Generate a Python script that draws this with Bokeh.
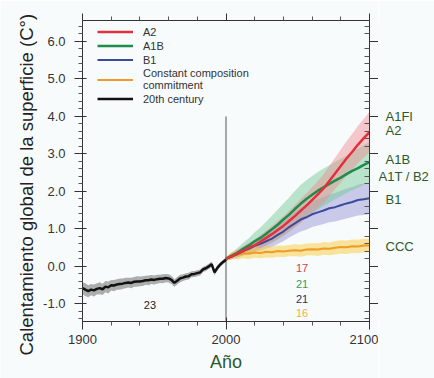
from bokeh.plotting import figure
from bokeh.models import (LinearAxis, Legend, LegendItem, Label, FixedTicker,
                          Range1d, Title, CustomJSTickFormatter, CustomLabelingPolicy)
from bokeh.layouts import row
from bokeh.core.properties import value
from bokeh.embed import file_html
from bokeh.resources import INLINE

# ---------------- data ----------------
years_hist = list(range(1900, 2001, 2))
hist = [-0.58, -0.62, -0.66, -0.62, -0.64, -0.60, -0.58, -0.61, -0.54, -0.56,
        -0.50, -0.51, -0.48, -0.47, -0.46, -0.44, -0.43, -0.44, -0.41, -0.40,
        -0.40, -0.39, -0.37, -0.37, -0.35, -0.36, -0.34, -0.33, -0.33, -0.31,
        -0.32, -0.36, -0.44, -0.38, -0.32, -0.30, -0.27, -0.26, -0.21, -0.20,
        -0.18, -0.16, -0.08, -0.05, 0.00, 0.06, -0.16, -0.04, 0.05, 0.12, 0.18]
hist_spread = [0.16, 0.17, 0.16, 0.15, 0.16, 0.15, 0.16, 0.15, 0.15, 0.16,
               0.14, 0.15, 0.14, 0.15, 0.14, 0.14, 0.13, 0.14, 0.13, 0.14,
               0.13, 0.13, 0.12, 0.13, 0.12, 0.12, 0.12, 0.11, 0.12, 0.11,
               0.11, 0.11, 0.10, 0.10, 0.10, 0.09, 0.09, 0.09, 0.08, 0.08,
               0.08, 0.08, 0.07, 0.07, 0.07, 0.07, 0.08, 0.07, 0.06, 0.06, 0.06]

years_fut = list(range(2000, 2101, 4))
a2 = [0.20, 0.27, 0.35, 0.41, 0.50, 0.56, 0.66, 0.76, 0.86, 0.97,
      1.08, 1.21, 1.34, 1.48, 1.62, 1.77, 1.92, 2.08, 2.28, 2.48,
      2.68, 2.88, 3.06, 3.25, 3.42, 3.58]
a2_spread = [0.05, 0.08, 0.10, 0.12, 0.14, 0.16, 0.18, 0.20, 0.22, 0.24,
             0.26, 0.28, 0.30, 0.32, 0.33, 0.34, 0.36, 0.38, 0.40, 0.42,
             0.44, 0.46, 0.48, 0.50, 0.52, 0.54]
a1b = [0.20, 0.29, 0.37, 0.47, 0.56, 0.67, 0.76, 0.87, 0.99, 1.11,
       1.25, 1.38, 1.53, 1.67, 1.80, 1.91, 2.02, 2.11, 2.20, 2.29,
       2.37, 2.46, 2.55, 2.62, 2.71, 2.78]
a1b_spread = [0.05, 0.08, 0.12, 0.16, 0.20, 0.24, 0.28, 0.32, 0.36, 0.40,
              0.43, 0.46, 0.48, 0.50, 0.50, 0.50, 0.50, 0.50, 0.50, 0.50,
              0.50, 0.50, 0.52, 0.52, 0.53, 0.54]
b1 = [0.20, 0.26, 0.33, 0.41, 0.47, 0.55, 0.60, 0.67, 0.74, 0.84,
      0.93, 1.05, 1.15, 1.25, 1.31, 1.39, 1.44, 1.49, 1.55, 1.58,
      1.63, 1.68, 1.72, 1.77, 1.79, 1.82]
b1_spread = [0.05, 0.07, 0.10, 0.12, 0.14, 0.16, 0.18, 0.20, 0.22, 0.24,
             0.26, 0.28, 0.30, 0.32, 0.33, 0.34, 0.35, 0.36, 0.37, 0.38,
             0.39, 0.40, 0.40, 0.41, 0.42, 0.42]
ccc = [0.20, 0.29, 0.31, 0.35, 0.34, 0.37, 0.36, 0.39, 0.38, 0.41,
       0.40, 0.42, 0.43, 0.42, 0.45, 0.46, 0.45, 0.48, 0.47, 0.50,
       0.52, 0.51, 0.54, 0.53, 0.56, 0.56]
ccc_spread = [0.06, 0.10, 0.12, 0.13, 0.14, 0.14, 0.14, 0.15, 0.15, 0.15,
              0.15, 0.15, 0.16, 0.16, 0.16, 0.16, 0.17, 0.17, 0.17, 0.18,
              0.18, 0.18, 0.18, 0.18, 0.18, 0.18]

legend_labels = ["A2", "A1B", "B1", "Constant composition\ncommitment", "20th century"]
right_labels = ["A1FI", "A2", "A1B", "A1T / B2", "B1", "CCC"]
right_label_values = [4.0, 3.62, 2.85, 2.40, 1.79, 0.53]
model_counts = ["17", "21", "21", "16"]
hist_count = "23"
y_ticks = [-1.0, 0.0, 1.0, 2.0, 3.0, 4.0, 5.0, 6.0]
y_minor = [-1.4, -1.2, -0.8, -0.6, -0.4, -0.2, 0.2, 0.4, 0.6, 0.8, 1.2, 1.4, 1.6, 1.8,
           2.2, 2.4, 2.6, 2.8, 3.2, 3.4, 3.6, 3.8, 4.2, 4.4, 4.6, 4.8,
           5.2, 5.4, 5.6, 5.8, 6.2, 6.4]
x_ticks = [1900, 2000, 2100]
x_minor = [1920, 1940, 1960, 1980, 2020, 2040, 2060, 2080]

# ---------------- styles ----------------
FONT = "Liberation Sans"
BG = "#f8fbfc"
RED, GREEN, BLUE, ORANGE, BLACK = "#e3303c", "#1e8c4a", "#3c4a9c", "#f09a28", "#111111"
LABEL_GREEN = "#2a5a2a"
Y0, Y1 = -1.47, 6.56

p = figure(width=378, height=378, output_backend="svg", toolbar_location=None,
           x_range=Range1d(1900, 2100), y_range=Range1d(Y0, Y1),
           min_border_left=82, min_border_right=9, min_border_top=20,
           min_border_bottom=57, background_fill_color=BG, border_fill_color=BG,
           x_axis_label="Año")
p.outline_line_color = None
p.grid.visible = False


def band(x, mid, spread):
    lo = [m - s for m, s in zip(mid, spread)]
    hi = [m + s for m, s in zip(mid, spread)]
    return x, lo, hi


x, lo, hi = band(years_hist, hist, hist_spread)
p.varea(x=x, y1=lo, y2=hi, fill_color="#8c8c8c", fill_alpha=0.7)
x, lo, hi = band(years_fut, b1, b1_spread)
p.varea(x=x, y1=lo, y2=hi, fill_color="#9a9ad8", fill_alpha=0.5)
x, lo, hi = band(years_fut, a1b, a1b_spread)
p.varea(x=x, y1=lo, y2=hi, fill_color="#6cc890", fill_alpha=0.45)
x, lo, hi = band(years_fut, a2, a2_spread)
p.varea(x=x, y1=lo, y2=hi, fill_color="#f08a90", fill_alpha=0.45)
x, lo, hi = band(years_fut, ccc, ccc_spread)
p.varea(x=x, y1=lo, y2=hi, fill_color="#f8d04a", fill_alpha=0.55)

# reference line at 2000
p.segment(x0=[2000], y0=[Y0], x1=[2000], y1=[4.0], line_color="#555555", line_width=1)

r_ccc = p.line(years_fut, ccc, line_color=ORANGE, line_width=2)
r_b1 = p.line(years_fut, b1, line_color=BLUE, line_width=2)
r_a1b = p.line(years_fut, a1b, line_color=GREEN, line_width=2.5)
r_a2 = p.line(years_fut, a2, line_color=RED, line_width=2.5)
r_hist = p.line(years_hist, hist, line_color=BLACK, line_width=2.5)

legend = Legend(items=[LegendItem(label=lab, renderers=[r]) for lab, r in
                       zip(legend_labels, [r_a2, r_a1b, r_b1, r_ccc, r_hist])],
                location=(15, 216), padding=0, margin=0, spacing=1,
                glyph_width=36, glyph_height=13, label_height=13,
                label_standoff=10, label_text_font=FONT,
                label_text_font_size="11px", label_text_color="#333333",
                label_text_line_height=1.0,
                background_fill_alpha=0, border_line_alpha=0)
p.add_layout(legend)

# ---------------- axes ----------------
xa = p.xaxis[0]
ya = p.yaxis[0]
xa.ticker = FixedTicker(ticks=x_ticks, minor_ticks=x_minor)
ya.ticker = FixedTicker(ticks=y_ticks, minor_ticks=y_minor)
ya.formatter = CustomJSTickFormatter(code="return tick.toFixed(1);")
for ax in (xa, ya):
    ax.axis_line_color = "#333333"
    ax.major_tick_line_color = "#333333"
    ax.minor_tick_line_color = "#555555"
    ax.major_tick_out = 8
    ax.major_tick_in = 4
    ax.minor_tick_out = 4
    ax.minor_tick_in = 0
    ax.major_label_text_font = FONT
    ax.major_label_text_font_size = "13px"
    ax.major_label_text_color = "#333333"
    ax.axis_label_text_font = FONT
    ax.axis_label_text_font_style = "normal"
ya.major_label_standoff = 9
xa.major_label_standoff = 5
xa.axis_label_standoff = 5
xa.axis_label_text_font_size = "18px"
xa.axis_label_text_color = LABEL_GREEN

top = LinearAxis(ticker=FixedTicker(ticks=x_ticks, minor_ticks=x_minor),
                 major_label_policy=CustomLabelingPolicy(code="return new Set()"),
                 major_label_text_font_size="0px", major_label_standoff=0,
                 axis_line_color="#333333", major_tick_line_color="#333333",
                 minor_tick_line_color="#555555",
                 major_tick_out=7, major_tick_in=0, minor_tick_out=4, minor_tick_in=0)
p.add_layout(top, "above")
right = LinearAxis(ticker=FixedTicker(ticks=y_ticks, minor_ticks=y_minor),
                   major_label_policy=CustomLabelingPolicy(code="return new Set()"),
                   major_label_text_font_size="0px", major_label_standoff=0,
                   axis_line_color="#333333", major_tick_line_color="#333333",
                   minor_tick_line_color="#555555",
                   major_tick_out=9, major_tick_in=0, minor_tick_out=0, minor_tick_in=5)
p.add_layout(right, "right")

ytitle = Title(text="Calentamiento global de la superficie (C°)", align="left",
               offset=-34, text_font=FONT, text_font_size="18.5px",
               text_font_style="normal", text_color="#222222", standoff=8)
p.add_layout(ytitle, "left")

# ---------------- annotations ----------------
for txt, yv, col in zip(model_counts, [-0.05, -0.48, -0.88, -1.25],
                        ["#d04050", "#30a060", "#303060", "#f0b040"]):
    p.add_layout(Label(x=2053, y=yv, text=txt, text_font=FONT, text_font_size="11px",
                       text_color=col, text_align="center", text_baseline="middle"))
p.add_layout(Label(x=1947, y=-1.04, text=hist_count, text_font=FONT,
                   text_font_size="11px", text_color="#222222",
                   text_align="center", text_baseline="middle"))

# right-hand scenario labels in a narrow companion panel sharing the y range
p2 = figure(width=56, height=378, output_backend="svg", toolbar_location=None,
            x_range=Range1d(0, 56), y_range=p.y_range,
            min_border_left=0, min_border_right=0, min_border_top=20,
            min_border_bottom=57, background_fill_color=BG, border_fill_color=BG)
p2.axis.visible = False
p2.grid.visible = False
p2.outline_line_color = None
p2.text(x=[0 if "/" in lab else 7 for lab in right_labels], y=right_label_values,
        text=right_labels, text_font=value(FONT), text_font_size="13px",
        text_color=LABEL_GREEN, text_baseline="middle", text_align="left")

layout = row(p, p2)
open("out.html", "w").write(file_html(layout, INLINE))
